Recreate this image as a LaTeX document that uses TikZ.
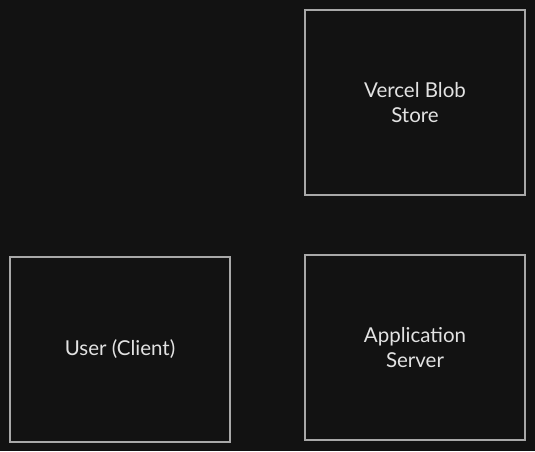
\documentclass[tikz,border=0pt]{standalone}
\usepackage{fontspec}
\setmainfont{Lato}
\usetikzlibrary{positioning}
\definecolor{bgdark}{HTML}{121212}
\definecolor{boxline}{HTML}{A8A8A8}
\definecolor{boxtext}{HTML}{E2E2E2}
\tikzset{
    every picture/.style = {
        x = 1pt,
        y = -1pt
    },
    block/.style = {
        draw = boxline,
        line width = 1.1pt,
        fill = bgdark,
        text = boxtext,
        minimum width = 220pt,
        minimum height = 185pt,
        inner sep = 0pt,
        outer sep = 0pt,
        align = center,
        font = \fontsize{20.5}{25}\selectfont
    }
}

\begin{document}
\begin{tikzpicture}

    \fill[bgdark] (0, 0) rectangle (535, 451);
    \useasboundingbox (0, 0) rectangle (535, 451);

    \node[block] (blob) at (415, 102.5) {Vercel Blob\\Store};
    \node[block] (user) at (120, 349.5) {User (Client)};
    \node[block] (server) at (415, 347.5) {Application\\Server};

\end{tikzpicture}
\end{document}
